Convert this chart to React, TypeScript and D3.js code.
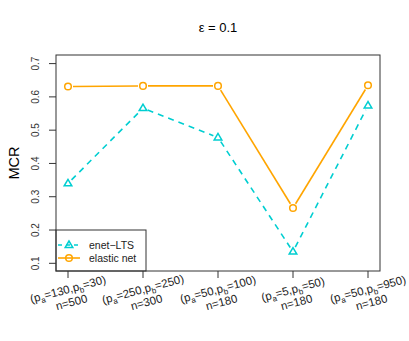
import React from "react";
import * as d3 from "d3";

// settings along the x axis: [pa, pb, n]
const pa = ["130", "250", "50", "5", "50"];
const pb = ["30", "250", "100", "50", "950"];
const nObs = ["500", "300", "180", "180", "180"];
const settings = pa.map((_, i) => `s${i}`);

const enetLTS = [0.34, 0.566, 0.478, 0.135, 0.574];
const elasticNet = [0.631, 0.633, 0.633, 0.266, 0.635];
const yTicks = [0.1, 0.2, 0.3, 0.4, 0.5, 0.6, 0.7];

const W = 409;
const H = 341;
const box = { left: 56, right: 380, top: 55, bottom: 271 };
const teal = "#00CED1";
const orange = "#FFA500";
const font = "'Liberation Sans', Arial, sans-serif";

const x = d3.scalePoint().domain(settings).range([68, 368]);
const y = d3.scaleLinear().domain([0.1, 0.7]).range([263.3, 63.6]);

// R type="b": segments with a gap round each point
function gappedSegments(vals: number[], gap: number) {
  const segs: [number, number, number, number][] = [];
  for (let i = 0; i < vals.length - 1; i++) {
    const x0 = x(settings[i])!, y0 = y(vals[i]);
    const x1 = x(settings[i + 1])!, y1 = y(vals[i + 1]);
    const len = Math.hypot(x1 - x0, y1 - y0);
    const ux = (x1 - x0) / len, uy = (y1 - y0) / len;
    segs.push([x0 + ux * gap, y0 + uy * gap, x1 - ux * gap, y1 - uy * gap]);
  }
  return segs;
}

const Triangle = ({ cx, cy }: { cx: number; cy: number }) => {
  const s = 4;
  const pts = [
    [cx, cy - s],
    [cx - s * 0.95, cy + s * 0.6],
    [cx + s * 0.95, cy + s * 0.6],
  ];
  return (
    <polygon
      points={pts.map((p) => p.join(",")).join(" ")}
      fill="none"
      stroke={teal}
      strokeWidth={1.5}
    />
  );
};

export default function App() {
  const lineLTS = gappedSegments(enetLTS, 5);
  const lineEN = gappedSegments(elasticNet, 5);
  return (
    <svg width={W} height={H} style={{ position: "absolute", left: 0, top: 0, background: "#fff" }} fontFamily={font}>
      <text x={218} y={32} textAnchor="middle" fontSize={13}>
        ε = 0.1
      </text>
      <text transform="translate(19,163) rotate(-90)" textAnchor="middle" fontSize={14.5}>
        MCR
      </text>

      {/* y axis */}
      {yTicks.map((t) => (
        <g key={t}>
          <line x1={49} x2={box.left} y1={y(t)} y2={y(t)} stroke="#333" />
          <text
            transform={`translate(39,${y(t)}) rotate(-90)`}
            textAnchor="middle"
            fontSize={10}
            fill="#333"
          >
            {t.toFixed(1)}
          </text>
        </g>
      ))}

      {/* x axis */}
      {settings.map((s, i) => (
        <g key={s}>
          <line x1={x(s)} x2={x(s)} y1={box.bottom} y2={278} stroke="#333" />
          <g transform={`translate(${x(s)! + 1},293) rotate(-15)`} fontSize={11.5} fill="#222">
            <text textAnchor="middle" y={0}>
              <tspan>(p</tspan>
              <tspan fontSize={8} dy={3}>a</tspan>
              <tspan dy={-3}>={pa[i]},p</tspan>
              <tspan fontSize={8} dy={3}>b</tspan>
              <tspan dy={-3}>={pb[i]})</tspan>
            </text>
            <text textAnchor="middle" y={13.5}>
              n={nObs[i]}
            </text>
          </g>
        </g>
      ))}

      {/* series */}
      {lineLTS.map((sg, i) => (
        <line key={i} x1={sg[0]} y1={sg[1]} x2={sg[2]} y2={sg[3]} stroke={teal} strokeWidth={1.6} strokeDasharray="6,5" />
      ))}
      {lineEN.map((sg, i) => (
        <line key={i} x1={sg[0]} y1={sg[1]} x2={sg[2]} y2={sg[3]} stroke={orange} strokeWidth={1.6} />
      ))}
      {enetLTS.map((v, i) => (
        <Triangle key={i} cx={x(settings[i])!} cy={y(v)} />
      ))}
      {elasticNet.map((v, i) => (
        <circle key={i} cx={x(settings[i])} cy={y(v)} r={3.3} fill="none" stroke={orange} strokeWidth={1.5} />
      ))}

      {/* legend */}
      <rect x={box.left} y={230} width={90} height={box.bottom - 230} fill="#fff" stroke="#333" />
      <line x1={58} x2={80} y1={245} y2={245} stroke={teal} strokeWidth={1.6} strokeDasharray="4,4" />
      <Triangle cx={69} cy={245} />
      <text x={89} y={249} fontSize={10.5} fill="#222">enet−LTS</text>
      <line x1={58} x2={80} y1={258} y2={258} stroke={orange} strokeWidth={1.6} />
      <circle cx={69} cy={258} r={3.3} fill="none" stroke={orange} strokeWidth={1.5} />
      <text x={89} y={262} fontSize={10.5} fill="#222">elastic net</text>

      <rect x={box.left} y={box.top} width={box.right - box.left} height={box.bottom - box.top} fill="none" stroke="#333" />
    </svg>
  );
}
